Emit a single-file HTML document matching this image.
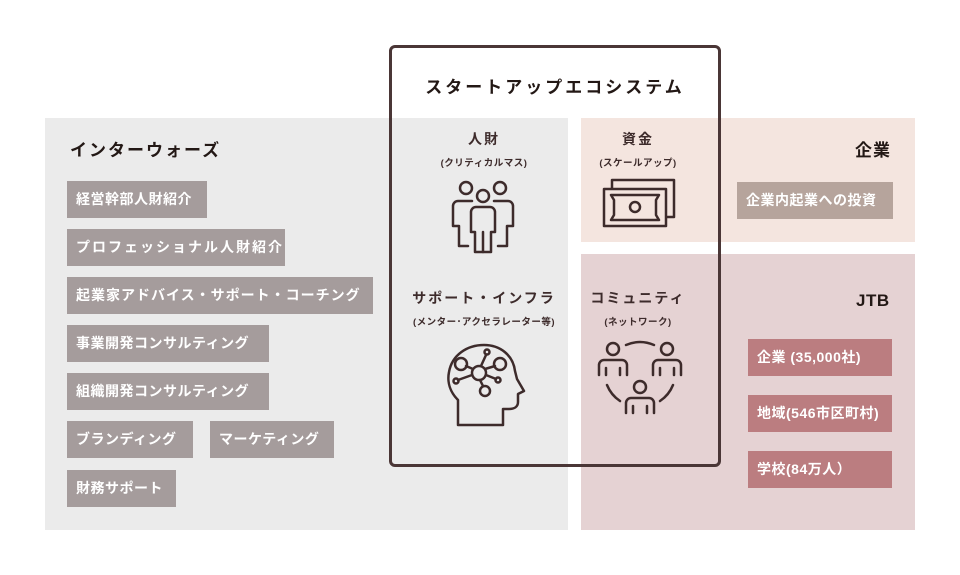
<!DOCTYPE html>
<html><head><meta charset="utf-8"><style>
body{margin:0;width:960px;height:575px;background:#fff;position:relative;overflow:hidden;font-family:"Liberation Sans","Noto Sans CJK JP",sans-serif;}
.a{position:absolute;}
.tag{position:absolute;height:37px;line-height:37px;color:#fff;font-size:14px;font-weight:bold;padding-left:9px;box-sizing:border-box;letter-spacing:0.5px;white-space:nowrap;}
.g{background:#a59c9c;}
.r{background:#bb7d80;}
.h{font-weight:bold;color:#231815;white-space:nowrap;}
.q{position:absolute;text-align:center;color:#3d2b2b;font-weight:bold;white-space:nowrap;}
.q .t{font-size:14px;letter-spacing:2px;}
.q .s{font-size:9.5px;margin-top:6px;letter-spacing:0.5px;}
</style></head><body>
<div class="a" style="left:45px;top:118px;width:523px;height:412px;background:#ebebeb"></div>
<div class="a" style="left:581px;top:118px;width:334px;height:124px;background:#f4e5df"></div>
<div class="a" style="left:581px;top:254px;width:334px;height:276px;background:#e5d2d3"></div>

<div class="a h" style="left:70px;top:136px;font-size:17px;letter-spacing:2px">インターウォーズ</div>
<div class="a h" style="left:855px;top:136px;font-size:17px;letter-spacing:1px">企業</div>
<div class="a h" style="left:856px;top:291px;font-size:17px;letter-spacing:0.5px">JTB</div>

<div class="tag g" style="left:67px;top:181px;width:140px">経営幹部人財紹介</div>
<div class="tag g" style="left:67px;top:229px;width:218px;letter-spacing:2px">プロフェッショナル人財紹介</div>
<div class="tag g" style="left:67px;top:277px;width:306px;letter-spacing:1px">起業家アドバイス・サポート・コーチング</div>
<div class="tag g" style="left:67px;top:325px;width:202px">事業開発コンサルティング</div>
<div class="tag g" style="left:67px;top:373px;width:202px">組織開発コンサルティング</div>
<div class="tag g" style="left:67px;top:421px;width:126px">ブランディング</div>
<div class="tag g" style="left:210px;top:421px;width:124px">マーケティング</div>
<div class="tag g" style="left:67px;top:470px;width:109px">財務サポート</div>

<div class="tag" style="left:737px;top:182px;width:156px;background:#b6a49c">企業内起業への投資</div>
<div class="tag r" style="left:748px;top:339px;width:144px">企業 (35,000社)</div>
<div class="tag r" style="left:748px;top:395px;width:144px">地域(546市区町村)</div>
<div class="tag r" style="left:748px;top:451px;width:144px">学校(84万人）</div>

<div class="a" style="left:389px;top:45px;width:326px;height:416px;border:3px solid #4a3636;border-radius:6px"></div>
<div class="a h" style="left:389px;top:73px;width:332px;text-align:center;font-size:17px;letter-spacing:3px">スタートアップエコシステム</div>

<div class="q" style="left:404px;top:129px;width:160px"><div class="t">人財</div><div class="s">(クリティカルマス)</div></div>
<div class="q" style="left:558px;top:129px;width:160px"><div class="t">資金</div><div class="s">(スケールアップ)</div></div>
<div class="q" style="left:404px;top:288px;width:160px"><div class="t">サポート・インフラ</div><div class="s">(メンター･アクセラレーター等)</div></div>
<div class="q" style="left:558px;top:288px;width:160px"><div class="t">コミュニティ</div><div class="s">(ネットワーク)</div></div>

<svg class="a" style="left:0;top:0" width="960" height="575" fill="none" stroke="#3d2b2b" stroke-width="2.5" stroke-linejoin="round" stroke-linecap="round">
<circle cx="466" cy="188" r="6"/><circle cx="500" cy="188" r="6"/><circle cx="483" cy="196" r="6"/>
<path d="M472 201h-14a5 5 0 0 0-5 5v20h6v20h9"/>
<path d="M494 201h14a5 5 0 0 1 5 5v20h-6v20h-9"/>
<path d="M476 207h14a5 5 0 0 1 5 5v20h-4v20h-16v-20h-4v-20a5 5 0 0 1 5-5z"/>
<path d="M483 232v20"/>
<rect x="612" y="180" width="62" height="37"/>
<rect x="604" y="189" width="62" height="37" fill="#f4e5df"/>
<path d="M611 195h48l-3 5v15l3 5h-48l3-5v-15z"/>
<circle cx="635" cy="207" r="5"/>
<path d="M458 425v-25c-8-8-11-18-9-28 3-17 18-27 35-27 16 0 29 10 31 26l2 8 7 12-6 3v8c0 5-4 7-9 7h-6v16z"/>
<circle cx="479" cy="373" r="7"/><circle cx="461" cy="364" r="6"/><circle cx="500" cy="364" r="6"/><circle cx="485" cy="391" r="5"/>
<circle cx="487" cy="352" r="2.5"/><circle cx="456" cy="381" r="2.5"/><circle cx="498" cy="380" r="2.5"/>
<path d="M473 369l-7-3M485 369l10-3M481 366l5-11M472 375l-14 5M486 375l10 4M480 380l3 6"/>
<circle cx="613" cy="349" r="6"/><circle cx="667" cy="349" r="6"/><circle cx="640" cy="387" r="6"/>
<path d="M599 375v-10a5 5 0 0 1 5-5h18a5 5 0 0 1 5 5v10M606 368v7M620 368v7"/>
<path d="M653 375v-10a5 5 0 0 1 5-5h18a5 5 0 0 1 5 5v10M660 368v7M674 368v7"/>
<path d="M626 413v-10a5 5 0 0 1 5-5h18a5 5 0 0 1 5 5v10M633 406v7M647 406v7"/>
<path d="M626 345q14-6 28 0M607 385q4 10 13 16M673 385q-4 10-13 16"/>
</svg>
</body></html>
